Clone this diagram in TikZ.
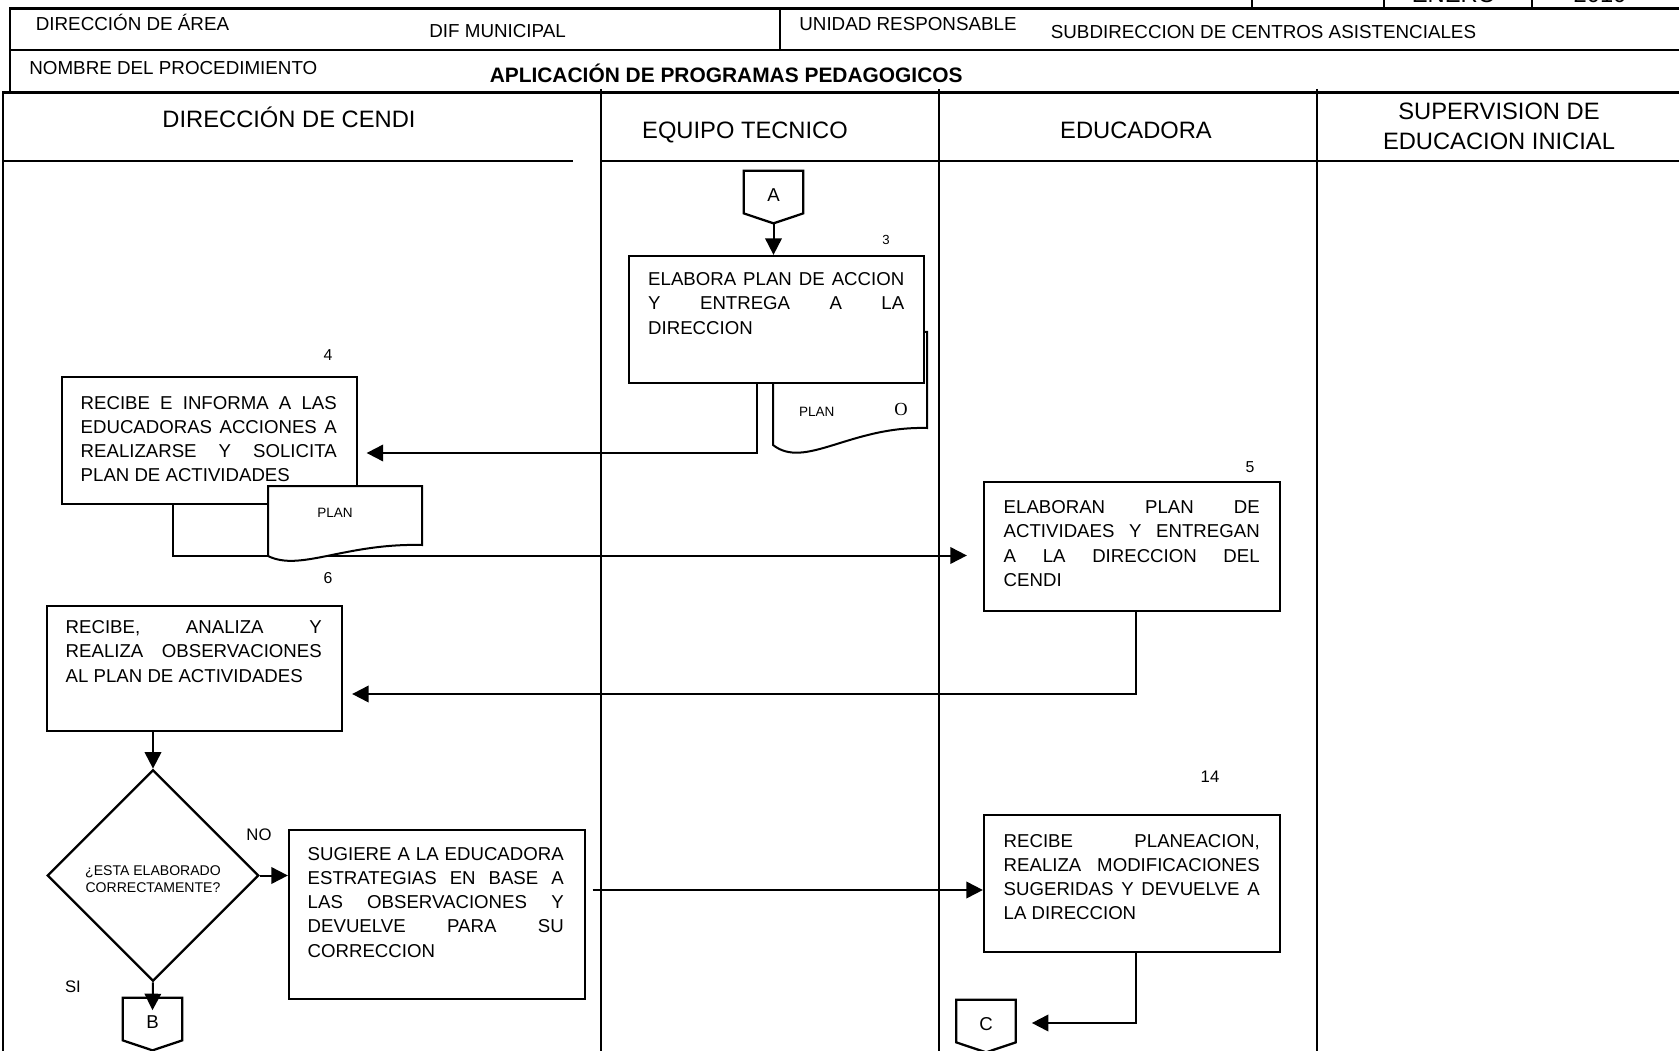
\documentclass[tikz,border=0pt]{standalone}
\usepackage{fontspec}
\setmainfont{Liberation Sans}
\newfontfamily\docserif{Liberation Serif}
\usetikzlibrary{shapes.geometric,arrows.meta,positioning}
\tikzset{
  rl/.style={line width=0.55mm},
  ln/.style={line width=0.4mm},
  box/.style={rectangle, draw, line width=0.45mm, fill=white, inner sep=0pt},
  txt/.style={inner sep=0pt, text width=51.2mm, align=justify,
              font=\fontsize{10.6}{13.8}\selectfont},
  hd/.style={inner sep=0pt, anchor=base west, font=\fontsize{10.7}{13}\selectfont},
  ttl/.style={inner sep=0pt, font=\fontsize{13.5}{17}\selectfont},
  num/.style={inner sep=0pt, font=\fontsize{9}{11}\selectfont},
  small/.style={inner sep=0pt, font=\fontsize{7.7}{9}\selectfont},
  ar/.style={-{Triangle[length=3.3mm, width=3.3mm]}, line width=0.4mm},
  doc/.style={draw, line width=0.4mm, fill=white},
  opg/.style={minimum width=11.8mm, minimum height=8.4mm, inner sep=0pt,
              text height=11pt, text depth=0pt, font=\fontsize{10.6}{13}\selectfont},
  dec/.style={diamond, aspect=1, draw, line width=0.45mm, minimum size=42.3mm,
              inner sep=0pt}
}

\begin{document}
\begin{tikzpicture}[x=0.2mm, y=-0.2mm]
\useasboundingbox (0,0) rectangle (1679,1051);
\clip (0,0) rectangle (1679,1051);

% header
\draw[ln] (1252,-10) -- (1252,8.5) (1384,-10) -- (1384,8.5) (1532,-10) -- (1532,8.5);
\node[ttl, anchor=base] (mes) at (1454,2.7) {ENERO};
\node[ttl, anchor=base] (anio) at (1600,2.7) {2010};
\draw[rl] (1690,8.5) -- (10,8.5) -- (10,92.5);
\draw[rl] (10,50) -- (1690,50);
\draw[ln] (779.5,8.5) -- (779.5,50);
\node[hd] (area) at (35.5,31) {DIRECCIÓN DE ÁREA};
\node[hd] (dif) at (429,38) {DIF MUNICIPAL};
\node[hd] (unidad) at (799,31) {UNIDAD RESPONSABLE};
\node[hd] (subdir) at (1050.5,39) {SUBDIRECCION DE CENTROS ASISTENCIALES};
\node[hd] (nombre) at (29,74.5) {NOMBRE DEL PROCEDIMIENTO};
\node[hd, font=\fontsize{11.9}{14}\selectfont\bfseries] (proc) at (489.4,82.5)
  {APLICACIÓN DE PROGRAMAS PEDAGOGICOS};

% lanes
\draw[rl] (3,1060) -- (3,92.5) -- (1690,92.5);
\draw[rl] (3,161) -- (573,161) (601,161) -- (1690,161);
\foreach \x in {601,939,1317}
  \draw[ln] (\x,89) -- (\x,1060);
\node[ttl, anchor=base] (l1) at (289,128) {DIRECCIÓN DE CENDI};
\node[ttl, anchor=base] (l2) at (745,138.5) {EQUIPO TECNICO};
\node[ttl, anchor=base] (l3) at (1136,138.5) {EDUCADORA};
\node[ttl, align=center] (l4) at (1499,126.5) {SUPERVISION DE\\EDUCACION INICIAL};

% connectors A, B, C
\node[opg] (pA) at (773.5,192) {A};
\node[opg] (pB) at (152.5,1019) {B};
\node[opg] (pC) at (986,1021) {C};
\foreach \p in {pA,pB,pC}
  \draw[line width=0.45mm] (\p.north west) -- (\p.north east) -- (\p.south east)
    -- ([yshift=-2mm]\p.south) -- (\p.south west) -- cycle;

% step 3
\draw[doc] (773,332) -- (927,332) -- (927,428)
  .. controls (850,426) and (805,470) .. (773,445) -- cycle;
\node[small] (pl3) at (816.7,411.7) {PLAN};
\node[inner sep=0pt, font=\docserif\fontsize{10.5}{12}\selectfont] (o3) at (901,409) {O};
\node[box, minimum width=59mm, minimum height=25.4mm] (b3) at (776.5,319.5) {};
\node[txt, below right=3.5mm and 4mm of b3.north west] (t3)
  {ELABORA PLAN DE ACCION\linebreak Y ENTREGA A LA\linebreak DIRECCION};
\node[num, font=\fontsize{7.5}{9}\selectfont] (n3) at (886,240) {3};

% step 4
\node[box, minimum width=59mm, minimum height=25.4mm] (b4) at (209.5,440.5) {};
\node[txt, below right=4mm and 3.9mm of b4.north west] (t4)
  {RECIBE E INFORMA A LAS\linebreak EDUCADORAS ACCIONES A\linebreak
   REALIZARSE Y SOLICITA\linebreak PLAN DE ACTIVIDADES};
\node[num] (n4) at (328,355) {4};

% step 5
\node[box, minimum width=59.2mm, minimum height=25.8mm] (b5) at (1132,546.5) {};
\node[txt, below right=3.9mm and 4.1mm of b5.north west] (t5)
  {ELABORAN PLAN DE\linebreak ACTIVIDAES Y ENTREGAN\linebreak
   A LA DIRECCION DEL\linebreak CENDI};
\node[num] (n5) at (1250,467) {5};

% step 6
\node[box, minimum width=59mm, minimum height=25mm] (b6) at (194.5,668.5) {};
\node[txt, below right=3.1mm and 3.9mm of b6.north west] (t6)
  {RECIBE, ANALIZA Y\linebreak REALIZA OBSERVACIONES\linebreak AL PLAN DE ACTIVIDADES};
\node[num] (n6) at (328,578) {6};

% decision
\node[dec] (q) at (153,875.5) {};
\node[inner sep=0pt, align=center, font=\fontsize{8}{9.6}\selectfont] (qt)
  at ([yshift=-0.8mm]q.center) {¿ESTA ELABORADO\\CORRECTAMENTE?};
\node[num, font=\fontsize{9.5}{11}\selectfont] (no) at (259,835) {NO};
\node[num, font=\fontsize{9.5}{11}\selectfont] (si) at (73,987) {SI};

\node[box, minimum width=59.2mm, minimum height=33.8mm] (b7) at (437,914.5) {};
\node[txt, below right=3.6mm and 3.9mm of b7.north west] (t7)
  {SUGIERE A LA EDUCADORA\linebreak ESTRATEGIAS EN BASE A\linebreak
   LAS OBSERVACIONES Y\linebreak DEVUELVE PARA SU\linebreak CORRECCION};

% step 14
\node[box, minimum width=59.2mm, minimum height=27.4mm] (b14) at (1132,883.5) {};
\node[txt, below right=4mm and 4.1mm of b14.north west] (t14)
  {RECIBE PLANEACION,\linebreak REALIZA MODIFICACIONES\linebreak
   SUGERIDAS Y DEVUELVE A\linebreak LA DIRECCION};
\node[num, font=\fontsize{9.5}{11}\selectfont] (n14) at (1210,777) {14};

% flow
\coordinate (j3) at (757,453);
\coordinate (j4) at (173,555.5);
\coordinate (j5) at (1136,694);
\coordinate (j7) at (591,890);
\coordinate (j14) at (1136,1023);
\draw[ar] ([yshift=-2mm]pA.south) -- (pA.south |- b3.north);
\draw[ar, shorten >=1.7mm] (b3.south -| j3) |- (b4.east |- j3);
\draw[ar, shorten >=3.2mm] (b4.south -| j4) |- (b5.west |- j4);
\draw[ar, shorten >=1.8mm] (b5.south -| j5) |- (b6.east |- j5);
\draw[ar] (b6.south -| q.north) -- (q.north);
\draw[ar] (q.east) -- (q.east -| b7.west);
\draw[ar] (q.south) -- ([yshift=-2.5mm]pB.north);
\draw[ar, shorten <=1.3mm] (b7.east |- j7) -- (b14.west |- j7);
\draw[ar, shorten >=3.2mm] (b14.south -| j14) |- (pC.east |- j14);

% document over step 4
\draw[doc] (268,486) -- (422,486) -- (422,545)
  .. controls (345,543) and (300,572) .. (268,556) -- cycle;
\node[small] (pl4) at (335,513.3) {PLAN};
\end{tikzpicture}
\end{document}
